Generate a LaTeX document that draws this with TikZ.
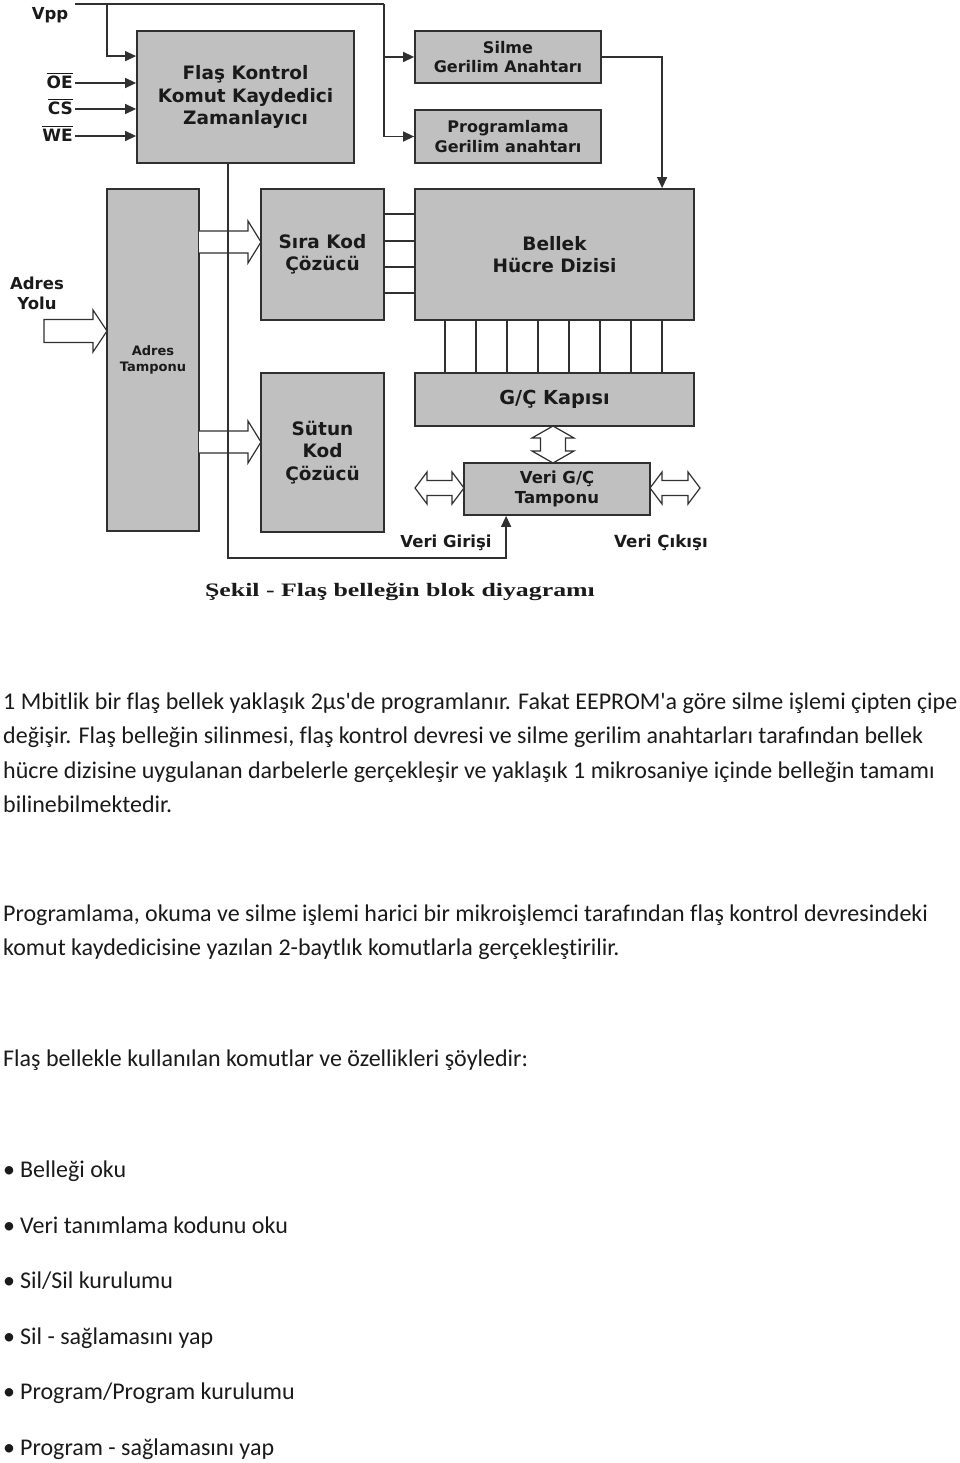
\documentclass[tikz,border=0pt]{standalone}
\usepackage{fontspec}
\newfontfamily\djv{DejaVu Sans}
\newfontfamily\cali{Carlito}[Ligatures={NoCommon}]
\newfontfamily\tms{Liberation Serif}
\usetikzlibrary{calc,arrows.meta}
\definecolor{boxfill}{HTML}{C0C0C0}
\definecolor{boxline}{HTML}{303030}
\definecolor{ink}{HTML}{1A1A1A}
\tikzset{
  blk/.style={draw=boxline, line width=1.8pt, fill=boxfill, inner sep=0pt, align=center, text=ink},
  wire/.style={draw=boxline, line width=1.4pt},
  arr/.style={wire, -{Triangle[length=11pt,width=10pt]}},
  hol/.style={draw=boxline, line width=1.2pt, fill=white, line join=miter},
  lbl/.style={inner sep=0pt, text=ink, align=center},
  bodytxt/.style={inner sep=0pt, anchor=base west, text=ink, font=\cali\fontsize{24}{28}\selectfont},
}
\newcommand\fs[2]{\djv\bfseries\fontsize{#1}{#2}\selectfont}
\newcommand\ovl[1]{\vbox{\hrule height 1.3pt\kern2.2pt\hbox{#1}}}
\begin{document}
\begin{tikzpicture}[x=1pt,y=-1pt]
\useasboundingbox (0,0) rectangle (960,1463);
% ---- boxes
\node[blk, minimum width=217, minimum height=132, font=\fs{18.5}{22.5}] (flash) at (245.5,97) {Flaş Kontrol\\Komut Kaydedici\\Zamanlayıcı};
\node[blk, minimum width=186, minimum height=52, font=\fs{16}{19.5}] (silme) at (508,57) {Silme\\Gerilim Anahtarı};
\node[blk, minimum width=186, minimum height=53, font=\fs{16}{19.5}] (prog) at (508,136.5) {Programlama\\Gerilim anahtarı};
\node[blk, minimum width=92, minimum height=342, font=\fs{13}{15.5}] (adres) at (153,360) {Adres\\Tamponu};
\node[blk, minimum width=123, minimum height=131, font=\fs{18.5}{22.5}] (sira) at (322.5,254.5) {Sıra Kod\\Çözücü};
\node[blk, minimum width=279, minimum height=131, font=\fs{18.5}{22.5}] (bellek) at (554.5,254.5) {Bellek\\Hücre Dizisi};
\node[blk, minimum width=279, minimum height=53, font=\fs{19.3}{22}] (gc) at (554.5,399.5) {G/Ç Kapısı};
\node[blk, minimum width=123, minimum height=159, font=\fs{18.5}{22.5}] (sutun) at (322.5,452.5) {Sütun\\Kod\\Çözücü};
\node[blk, minimum width=186, minimum height=52, font=\fs{16.5}{19.5}] (veri) at (557,489) {Veri G/Ç\\Tamponu};
% ---- labels
\node[lbl, font=\fs{16.5}{20}] (vpp) at (50,15) {Vpp};
\node[lbl, font=\fs{17}{20}, anchor=base east] (oe) at (73,89) {\ovl{OE}};
\node[lbl, font=\fs{17}{20}, anchor=base east] (cs) at (73,115) {\ovl{CS}};
\node[lbl, font=\fs{17}{20}, anchor=base east] (we) at (73,142) {\ovl{WE}};
\node[lbl, font=\fs{16.5}{20}] (ayolu) at (37,293) {Adres\\Yolu};
\node[lbl, font=\fs{16.5}{20}] (vgir) at (446,543) {Veri Girişi};
\node[lbl, font=\fs{16.7}{20}] (vcik) at (661,543) {Veri Çıkışı};
\node[lbl, font=\tms\bfseries\fontsize{19}{21}\selectfont] (cap) at (400,592) {\scalebox{1.36}[1]{Şekil - Flaş belleğin blok diyagramı}};
% ---- Vpp and control inputs
\coordinate (vppL) at (75,4);
\coordinate (vppR) at (384,4);
\coordinate (vppT) at (107,4);
\draw[wire] (vppL) -- (vppR);
\draw[arr] (vppR) |- (prog.west);
\draw[arr] (vppR |- silme.west) -- (silme.west);
\draw[arr] (vppT) |- ($(flash.north west)+(0,26)$);
\coordinate (oeA) at (75,83);
\coordinate (csA) at (75,109);
\coordinate (weA) at (75,136);
\draw[arr] (oeA) -- (oeA -| flash.west);
\draw[arr] (csA) -- (csA -| flash.west);
\draw[arr] (weA) -- (weA -| flash.west);
% ---- erase switch to array
\draw[arr] (silme.east) -| ($(bellek.north west)+(248,0)$);
% ---- row decoder to array
\foreach \dy in {26,53,79,105}
  \draw[wire] ($(sira.north east)+(0,\dy)$) -- ($(bellek.north west)+(0,\dy)$);
% ---- array to I/O gate
\foreach \dx in {31,62,93,124,155,186,217,248}
  \draw[wire] ($(bellek.south west)+(\dx,0)$) -- ($(gc.north west)+(\dx,0)$);
% ---- hollow arrows
\draw[hol] (44,331-11.5) -- (93,331-11.5) -- (93,331-21) -- (107,331) -- (93,331+21) -- (93,331+11.5) -- (44,331+11.5) -- cycle;
\draw[hol] (199,242-11) -- (248,242-11) -- (248,242-21) -- (261,242) -- (248,242+21) -- (248,242+11) -- (199,242+11);
\draw[hol] (199,442-11) -- (248,442-11) -- (248,442-21) -- (261,442) -- (248,442+21) -- (248,442+11) -- (199,442+11);
% vertical double arrow gc <-> veri
\draw[hol] (553,426) -- (553+21,438) -- (553+12.5,438) -- (553+12.5,451) -- (553+21,451) -- (553,463) -- (553-21,451) -- (553-12.5,451) -- (553-12.5,438) -- (553-21,438) -- cycle;
% left and right double arrows
\draw[hol] (415,488) -- (427,488-16) -- (427,488-7.5) -- (452,488-7.5) -- (452,488-16) -- (464,488) -- (452,488+16) -- (452,488+7.5) -- (427,488+7.5) -- (427,488+16) -- cycle;
\draw[hol] (650,488) -- (662,488-16) -- (662,488-7.5) -- (688,488-7.5) -- (688,488-16) -- (700,488) -- (688,488+16) -- (688,488+7.5) -- (662,488+7.5) -- (662,488+16) -- cycle;
% ---- control bus to data buffer
\draw[arr] ($(flash.south west)+(92,0)$) -- ++(0,394) -| ($(veri.south west)+(43,0)$);
% ---- body text
\node[bodytxt] (p1a) at (3,709) {1 Mbitlik bir flaş bellek yaklaşık 2μs'de programlanır. Fakat EEPROM'a göre silme işlemi çipten çipe};
\node[bodytxt] (p1b) at (3,743) {değişir. Flaş belleğin silinmesi, flaş kontrol devresi ve silme gerilim anahtarları tarafından bellek};
\node[bodytxt] (p1c) at (3,778) {hücre dizisine uygulanan darbelerle gerçekleşir ve yaklaşık 1 mikrosaniye içinde belleğin tamamı};
\node[bodytxt] (p1d) at (3,812) {bilinebilmektedir.};
\node[bodytxt] (p2a) at (3,921) {Programlama, okuma ve silme işlemi harici bir mikroişlemci tarafından flaş kontrol devresindeki};
\node[bodytxt] (p2b) at (3,955) {komut kaydedicisine yazılan 2-baytlık komutlarla gerçekleştirilir.};
\node[bodytxt] (p3) at (3,1066) {Flaş bellekle kullanılan komutlar ve özellikleri şöyledir:};
\node[bodytxt] (b1) at (3,1177) {•\hspace{5pt}Belleği oku};
\node[bodytxt] (b2) at (3,1233) {•\hspace{5pt}Veri tanımlama kodunu oku};
\node[bodytxt] (b3) at (3,1288) {•\hspace{5pt}Sil/Sil kurulumu};
\node[bodytxt] (b4) at (3,1344) {•\hspace{5pt}Sil - sağlamasını yap};
\node[bodytxt] (b5) at (3,1399) {•\hspace{5pt}Program/Program kurulumu};
\node[bodytxt] (b6) at (3,1455) {•\hspace{5pt}Program - sağlamasını yap};
\end{tikzpicture}
\end{document}
